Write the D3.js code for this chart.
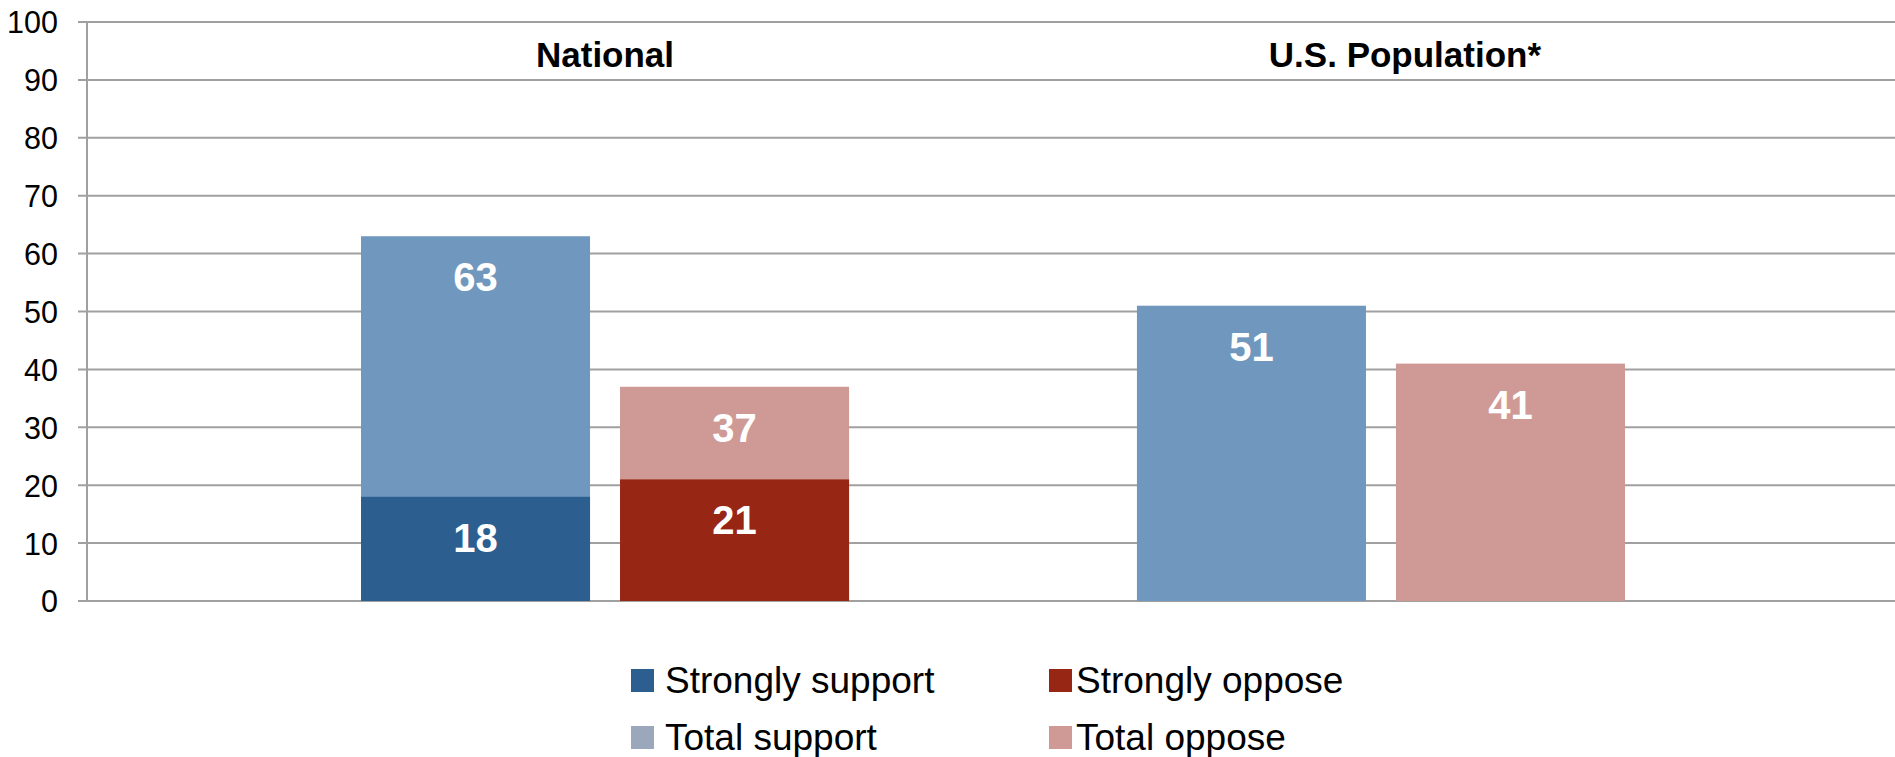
<!DOCTYPE html>
<html>
<head>
<meta charset="utf-8">
<script src="https://cdn.jsdelivr.net/npm/d3@7"></script>
<style>
  html, body { margin: 0; padding: 0; background: #ffffff; }
  svg { display: block; font-family: Arial, "Liberation Sans", sans-serif; }
</style>
</head>
<body>
<svg id="chart" width="1895" height="757"></svg>
<script>
// ---- data ----
const categories = ["National", "U.S. Population*"];
const strongSupport = [18, null];
const totalSupport = [63, 51];
const strongOppose = [21, null];
const totalOppose = [37, 41];
const yTicks = [0, 10, 20, 30, 40, 50, 60, 70, 80, 90, 100];
const legendItems = ["Strongly support", "Strongly oppose", "Total support", "Total oppose"];

// ---- layout / style ----
const W = 1895, H = 757;
const plotLeft = 87, plotRight = 1895, plotTop = 22, plotBottom = 601;
const colors = {
  strongSupport: "#2C5F8F",
  totalSupport: "#7098BE",
  strongOppose: "#982614",
  totalOppose: "#CF9A96"
};
const legendColors = ["#2C5F8F", "#982614", "#9BA7BB", "#CF9A96"];
const gridColor = "#A0A0A0";
const catLabelDx = [0, 24];

const svg = d3.select("#chart");

const y = d3.scaleLinear().domain([0, 100]).range([plotBottom, plotTop]);
const x = d3.scaleBand().domain(categories).range([361, 1625]).paddingInner(0.371).paddingOuter(0);
const xs = d3.scaleBand().domain(["support", "oppose"]).range([0, x.bandwidth()]).paddingInner(0.1158).paddingOuter(0);

// gridlines
svg.append("g").selectAll("line").data(yTicks).join("line")
  .attr("x1", plotLeft - 9).attr("x2", plotRight)
  .attr("y1", d => y(d)).attr("y2", d => y(d))
  .attr("stroke", gridColor).attr("stroke-width", 2);

// y axis (labels + vertical line)
const yAxis = d3.axisLeft(y).tickValues(yTicks).tickSize(0).tickPadding(29);
const gy = svg.append("g").attr("transform", `translate(${plotLeft},0)`).call(yAxis);
gy.select(".domain").remove();
gy.selectAll("text").attr("font-size", 30.5).attr("fill", "#000")
  .attr("font-family", "Arial, 'Liberation Sans', sans-serif").attr("dy", "0.36em");
svg.append("line").attr("x1", plotLeft).attr("x2", plotLeft)
  .attr("y1", plotTop).attr("y2", plotBottom + 1)
  .attr("stroke", gridColor).attr("stroke-width", 2);

// bars
const rows = categories.map((c, i) => ({
  cat: c, i,
  segs: [
    { key: "support", v: totalSupport[i], color: colors.totalSupport },
    { key: "support", v: strongSupport[i], color: colors.strongSupport },
    { key: "oppose", v: totalOppose[i], color: colors.totalOppose },
    { key: "oppose", v: strongOppose[i], color: colors.strongOppose }
  ].filter(s => s.v != null)
}));

const g = svg.append("g");
rows.forEach(r => {
  const gx = x(r.cat);
  r.segs.forEach(s => {
    g.append("rect")
      .attr("x", gx + xs(s.key)).attr("width", xs.bandwidth())
      .attr("y", y(s.v)).attr("height", y(0) - y(s.v))
      .attr("fill", s.color);
  });
  r.segs.forEach(s => {
    g.append("text")
      .attr("x", gx + xs(s.key) + xs.bandwidth() / 2)
      .attr("y", y(s.v) + 55)
      .attr("text-anchor", "middle")
      .attr("font-size", 40).attr("font-weight", "bold").attr("fill", "#fff")
      .text(s.v);
  });
  // category label
  svg.append("text")
    .attr("x", gx + x.bandwidth() / 2 + catLabelDx[r.i])
    .attr("y", 67)
    .attr("text-anchor", "middle")
    .attr("font-size", 35).attr("font-weight", "bold").attr("fill", "#000")
    .text(r.cat);
});

// legend
const legCols = [631, 1049];
const legTextDx = [34, 27];
const legRows = [669, 726];
const lg = svg.append("g");
legendItems.forEach((t, i) => {
  const c = i % 2, cx = legCols[c], ry = legRows[Math.floor(i / 2)];
  lg.append("rect").attr("x", cx).attr("y", ry).attr("width", 23).attr("height", 23).attr("fill", legendColors[i]);
  lg.append("text").attr("x", cx + legTextDx[c]).attr("y", ry + 24)
    .attr("font-size", 37).attr("fill", "#000").text(t);
});
</script>
</body>
</html>
